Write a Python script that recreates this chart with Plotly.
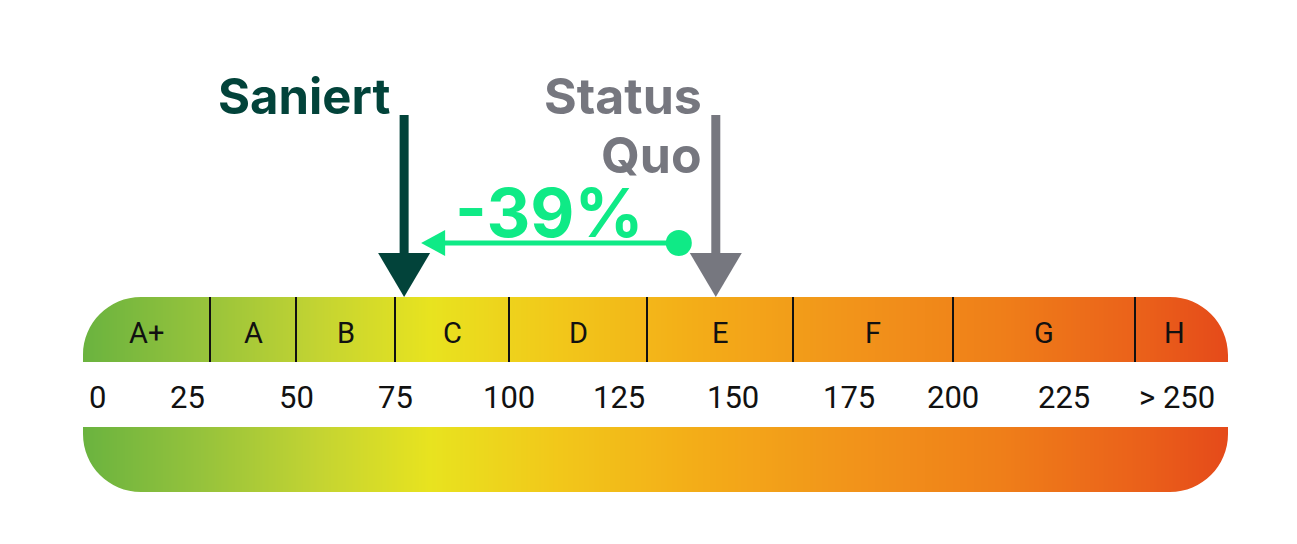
import numpy as np
import plotly.graph_objects as go

# ---------------- data ----------------
classes = ["A+", "A", "B", "C", "D", "E", "F", "G", "H"]
class_upper = [30, 50, 75, 100, 130, 160, 200, 250]          # upper bound of A+ .. G (H is open ended)
tick_values = [0, 25, 50, 75, 100, 125, 150, 175, 200, 225, 275]
tick_text = ["0", "25", "50", "75", "100", "125", "150", "175", "200", "225", "> 250"]
saniert_value = 77
status_quo_value = 146
change_label = "-39%"

# custom (hand drawn, non linear) energy scale: value -> horizontal pixel
scale_values = [0, 25, 30, 50, 75, 100, 125, 130, 150, 160, 175, 200, 225, 250, 275]
scale_pixels = [97, 187, 210, 296, 395, 509, 619, 647, 733, 793, 849, 953, 1064, 1135, 1177]


def sx(v):
    return float(np.interp(v, scale_values, scale_pixels))


# ---------------- style / layout constants ----------------
W, H = 1297, 544
BAR_L, BAR_R = 83, 1228
TOP_Y0, TOP_Y1 = 297, 362
WHITE_Y1 = 427
BOT_Y1 = 492
RAD = 58
K = 0.5523

DARK_GREEN = "#02433a"
GREY = "#76777f"
MINT = "#0fea86"
TXT = "#111111"

gradient = [
    [0.00, "#6ab33f"],
    [0.10, "#94c23c"],
    [0.207, "#c4d432"],
    [0.303, "#e8e31f"],
    [0.417, "#f2c71a"],
    [0.539, "#f3ac18"],
    [0.67, "#f2941a"],
    [0.80, "#ef7f19"],
    [0.93, "#ea5f1a"],
    [1.00, "#e54a1a"],
]

fig = go.Figure()

# gradient bar as a heatmap
ncol = BAR_R - BAR_L
xe = np.linspace(BAR_L, BAR_R, ncol + 1)
xc = (xe[:-1] + xe[1:]) / 2
fig.add_trace(go.Heatmap(
    x=xe, y=[TOP_Y0, BOT_Y1], z=[xc],
    colorscale=gradient, zmin=BAR_L, zmax=BAR_R,
    showscale=False, hoverinfo="skip",
))

shapes = []
# white middle band
shapes.append(dict(type="rect", x0=BAR_L - 3, x1=BAR_R + 3, y0=TOP_Y1, y1=WHITE_Y1,
                   fillcolor="white", line=dict(width=0), layer="above"))


def corner(cx, cy, dx, dy):
    # cx,cy : corner point ; dx,dy : direction into the bar (+1/-1)
    e = 3
    p = (f"M {cx - dx*e},{cy - dy*e} L {cx + dx*RAD},{cy - dy*e} L {cx + dx*RAD},{cy} "
         f"C {cx + dx*(RAD - K*RAD)},{cy} {cx},{cy + dy*(RAD - K*RAD)} {cx},{cy + dy*RAD} "
         f"L {cx - dx*e},{cy + dy*RAD} Z")
    return dict(type="path", path=p, fillcolor="white", line=dict(width=0), layer="above")


shapes.append(corner(BAR_L, TOP_Y0, 1, 1))
shapes.append(corner(BAR_R, TOP_Y0, -1, 1))
shapes.append(corner(BAR_L, BOT_Y1, 1, -1))
shapes.append(corner(BAR_R, BOT_Y1, -1, -1))

# class separators
for ub in class_upper:
    x = sx(ub)
    shapes.append(dict(type="line", x0=x, x1=x, y0=TOP_Y0, y1=TOP_Y1,
                       line=dict(color="#111111", width=2), layer="above"))


def down_arrow(x, color):
    out = [dict(type="rect", x0=x - 4.5, x1=x + 4.5, y0=115, y1=256,
                fillcolor=color, line=dict(width=0), layer="above"),
           dict(type="path", path=f"M {x-26},253 L {x+26},253 L {x},297 Z",
                fillcolor=color, line=dict(width=0), layer="above")]
    return out


xs = sx(saniert_value)
xq = sx(status_quo_value)
shapes += down_arrow(xs, DARK_GREEN)
shapes += down_arrow(xq, GREY)

# reduction arrow
ay = 243
x_start = xq - 37
x_tip = xs + 17
shapes.append(dict(type="line", x0=x_start, x1=x_tip + 20, y0=ay, y1=ay,
                   line=dict(color=MINT, width=5), layer="above"))
shapes.append(dict(type="path", path=f"M {x_tip},{ay} L {x_tip+24},{ay-13} L {x_tip+24},{ay+13} Z",
                   fillcolor=MINT, line=dict(width=0), layer="above"))
shapes.append(dict(type="circle", x0=x_start - 13, x1=x_start + 13, y0=ay - 13, y1=ay + 13,
                   fillcolor=MINT, line=dict(width=0), layer="above"))

annotations = []
# class letters
bounds_px = [BAR_L] + [sx(v) for v in class_upper] + [BAR_R - 14]
for i, c in enumerate(classes):
    annotations.append(dict(x=(bounds_px[i] + bounds_px[i + 1]) / 2, y=333, text=c,
                            showarrow=False, xanchor="center", yanchor="middle",
                            font=dict(family="Roboto", size=29, color=TXT)))
# tick labels
for v, t in zip(tick_values, tick_text):
    annotations.append(dict(x=sx(v), y=397, text=t, showarrow=False,
                            xanchor="center", yanchor="middle",
                            font=dict(family="Roboto", size=31, color=TXT)))

annotations.append(dict(x=xs - 12, y=96, text="<b>Saniert</b>", showarrow=False,
                        xanchor="right", yanchor="middle",
                        font=dict(family="Inter", size=49, color=DARK_GREEN)))
annotations.append(dict(x=xq - 12, y=96, text="<b>Status</b>", showarrow=False,
                        xanchor="right", yanchor="middle",
                        font=dict(family="Inter", size=50, color=GREY)))
annotations.append(dict(x=xq - 12, y=155, text="<b>Quo</b>", showarrow=False,
                        xanchor="right", yanchor="middle",
                        font=dict(family="Inter", size=50, color=GREY)))
annotations.append(dict(x=(x_tip + x_start) / 2, y=212, text=f"<b>{change_label}</b>",
                        showarrow=False, xanchor="center", yanchor="middle",
                        font=dict(family="Inter", size=68, color=MINT)))

fig.update_layout(
    width=W, height=H,
    margin=dict(l=0, r=0, t=0, b=0),
    paper_bgcolor="white", plot_bgcolor="white",
    xaxis=dict(range=[0, W], visible=False, fixedrange=True),
    yaxis=dict(range=[H, 0], visible=False, fixedrange=True),
    shapes=shapes, annotations=annotations,
    showlegend=False,
)

fig.write_html("out.html", config={"displayModeBar": False},
               post_script="document.body.style.margin='0';")
